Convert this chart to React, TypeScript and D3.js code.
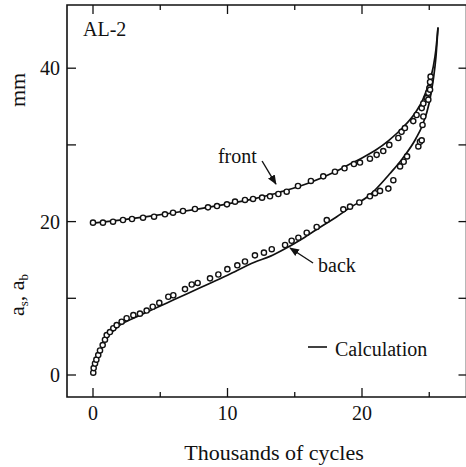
import React from 'react';
import * as d3 from 'd3';

// measured points (thousands of cycles, mm)
const frontX = [0, 0.74, 1.49, 2.23, 2.9, 3.72, 4.54, 5.35, 5.95, 6.69, 7.58, 8.55, 9.22, 9.96, 10.56, 11.3, 11.9, 12.57, 13.16, 13.78, 14.4, 15.24, 16.2, 17.12, 17.99, 18.7, 19.4, 19.85, 20.59, 21.09, 21.58, 22.03, 22.7, 22.94, 23.19, 23.81, 24.06, 24.44, 24.56, 24.81, 24.93, 25.01, 25.06, 25.1];
const frontY = [19.86, 19.86, 19.99, 20.21, 20.34, 20.51, 20.64, 20.95, 21.16, 21.38, 21.64, 21.86, 22.03, 22.25, 22.6, 22.82, 22.95, 23.12, 23.3, 23.6, 23.9, 24.64, 25.3, 25.9, 26.5, 26.95, 27.5, 27.7, 28.2, 28.7, 29.2, 30.0, 30.9, 31.7, 32.2, 33.1, 33.9, 34.8, 35.4, 36.1, 36.8, 37.4, 38.2, 38.9];

const backX = [0.02, 0.05, 0.15, 0.25, 0.39, 0.52, 0.72, 0.89, 1.02, 1.26, 1.51, 1.76, 2.13, 2.5, 3.0, 3.49, 3.99, 4.44, 4.93, 5.6, 5.97, 6.84, 7.34, 7.78, 8.7, 9.32, 9.99, 10.73, 11.3, 12.04, 12.71, 13.29, 14.28, 14.77, 15.27, 15.89, 16.63, 17.38, 18.61, 19.11, 19.8, 20.59, 20.97, 21.34, 21.96, 22.33, 22.83, 23.1, 23.35, 24.19, 24.31, 24.44, 24.5, 24.56, 24.93, 25.06];
const backY = [0.3, 0.9, 1.5, 2.0, 2.6, 3.2, 3.9, 4.6, 5.2, 5.6, 6.1, 6.5, 6.95, 7.4, 7.8, 8.0, 8.4, 8.9, 9.4, 10.2, 10.4, 11.2, 11.8, 12.0, 12.6, 13.1, 13.8, 14.3, 14.8, 15.6, 15.95, 16.4, 16.95, 17.5, 17.9, 18.55, 19.3, 20.2, 21.6, 21.95, 22.5, 23.3, 23.7, 24.0, 24.3, 25.4, 27.2, 27.8, 28.5, 29.8, 30.4, 30.6, 32.6, 33.7, 35.9, 37.2];

// calculation curves
const frontCalcX = [0, 2, 4, 6, 8, 10, 12, 13.2, 14, 16, 18, 19, 20, 21, 22, 23, 24, 24.5, 25, 25.3, 25.5, 25.65];
const frontCalcY = [19.8, 20.2, 20.65, 21.15, 21.7, 22.3, 23.0, 23.5, 23.9, 25.0, 26.5, 27.4, 28.3, 29.3, 30.6, 32.2, 34.3, 35.8, 38.2, 40.2, 42.5, 45.3];
const backCalcX = [0, 0.15, 0.35, 0.6, 0.9, 1.2, 1.6, 2, 3, 4, 5, 6, 8, 10, 12, 13.2, 14, 15.6, 17, 18.1, 19, 20.6, 22.1, 23, 24, 24.5, 25, 25.3, 25.5, 25.65];
const backCalcY = [0.2, 1.2, 2.3, 3.4, 4.4, 5.2, 5.9, 6.5, 7.4, 8.2, 9.0, 9.8, 11.4, 13.0, 14.7, 15.5, 16.2, 17.8, 19.4, 20.6, 21.7, 23.5, 26.3, 28.2, 30.8, 32.6, 35.5, 38.5, 41.5, 45.3];

const xTicks = [0, 10, 20];
const xMinor = [5, 15, 25];
const yTicks = [0, 20, 40];
const yMinor = [10, 30];

const W = 466;
const H = 467;
const left = 67, right = 466.5, top = 5, bottom = 397;
const font = '"Liberation Serif", "Times New Roman", serif';
const ink = '#111';

export default function App() {
  const x = d3.scaleLinear().domain([0, 10]).range([93, 227.5]);
  const y = d3.scaleLinear().domain([0, 10]).range([375, 298.3]);

  const line = d3.line<[number, number]>()
    .x(d => x(d[0]))
    .y(d => y(d[1]))
    .curve(d3.curveMonotoneX);

  const frontCalc = frontCalcX.map((v, i) => [v, frontCalcY[i]] as [number, number]);
  const backCalc = backCalcX.map((v, i) => [v, backCalcY[i]] as [number, number]);

  const allX = [...xTicks.map(t => ({ t, len: 9 })), ...xMinor.map(t => ({ t, len: 5 }))];
  const allY = [...yTicks, ...yMinor];

  return (
    <svg width={W} height={H} style={{ position: 'absolute', left: 0, top: 0, background: '#fff' }}>
      <defs>
        <marker id="ah" viewBox="0 0 10 10" refX="9" refY="5" markerWidth="7" markerHeight="7" orient="auto">
          <path d="M0,1 L10,5 L0,9 z" fill={ink} />
        </marker>
      </defs>
      <rect x={0} y={0} width={W} height={H} fill="#fff" />
      {/* frame */}
      <path d={`M${left},${top} H${right} V${bottom} H${left} Z`} fill="none" stroke={ink} strokeWidth={1.6} />
      {allX.map(({ t, len }) => (
        <g key={'x' + t}>
          <line x1={x(t)} x2={x(t)} y1={bottom} y2={bottom - len} stroke={ink} strokeWidth={1.3} />
          <line x1={x(t)} x2={x(t)} y1={top} y2={top + len} stroke={ink} strokeWidth={1.3} />
        </g>
      ))}
      {allY.map(t => (
        <g key={'y' + t}>
          <line x1={left} x2={left + 9} y1={y(t)} y2={y(t)} stroke={ink} strokeWidth={1.3} />
          <line x1={right - 8} x2={right} y1={y(t)} y2={y(t)} stroke={ink} strokeWidth={1.3} />
        </g>
      ))}
      {xTicks.map(t => (
        <text key={'xl' + t} x={x(t)} y={420} textAnchor="middle" fontFamily={font} fontSize={20} fill={ink}>{t}</text>
      ))}
      {yTicks.map(t => (
        <text key={'yl' + t} x={60} y={y(t) + 7} textAnchor="end" fontFamily={font} fontSize={20} fill={ink}>{t}</text>
      ))}
      <text x={274} y={460} textAnchor="middle" fontFamily={font} fontSize={22} fill={ink}>Thousands of cycles</text>
      <text transform="translate(25,90) rotate(-90)" textAnchor="middle" fontFamily={font} fontSize={22} fill={ink}>mm</text>
      <text transform="translate(24,295) rotate(-90)" textAnchor="middle" fontFamily={font} fontSize={22} fill={ink}>
        a<tspan fontSize={13} dy={4}>s</tspan><tspan dy={-4}>, a</tspan><tspan fontSize={13} dy={4}>b</tspan>
      </text>
      <text x={83} y={36} fontFamily={font} fontSize={20} fill={ink}>AL-2</text>

      {/* calculation curves */}
      <path d={line(frontCalc) ?? ''} fill="none" stroke={ink} strokeWidth={1.7} />
      <path d={line(backCalc) ?? ''} fill="none" stroke={ink} strokeWidth={1.7} />

      {/* measured points */}
      {frontX.map((v, i) => (
        <circle key={'f' + i} cx={x(v)} cy={y(frontY[i])} r={2.6} fill="#fff" stroke={ink} strokeWidth={1.4} />
      ))}
      {backX.map((v, i) => (
        <circle key={'b' + i} cx={x(v)} cy={y(backY[i])} r={2.6} fill="#fff" stroke={ink} strokeWidth={1.4} />
      ))}

      {/* annotations */}
      <text x={x(9.29)} y={y(27.64)} fontFamily={font} fontSize={20} fill={ink}>front</text>
      <line x1={x(12.57)} y1={y(27.9)} x2={x(13.6)} y2={y(24.9)} stroke={ink} strokeWidth={1.4} markerEnd="url(#ah)" />
      <text x={x(16.73)} y={y(13.43)} fontFamily={font} fontSize={20} fill={ink}>back</text>
      <line x1={x(16.36)} y1={y(14.6)} x2={x(14.65)} y2={y(16.56)} stroke={ink} strokeWidth={1.4} markerEnd="url(#ah)" />

      <line x1={308} x2={327} y1={347} y2={347} stroke={ink} strokeWidth={1.6} />
      <text x={335} y={356} fontFamily={font} fontSize={20} fill={ink}>Calculation</text>
    </svg>
  );
}
